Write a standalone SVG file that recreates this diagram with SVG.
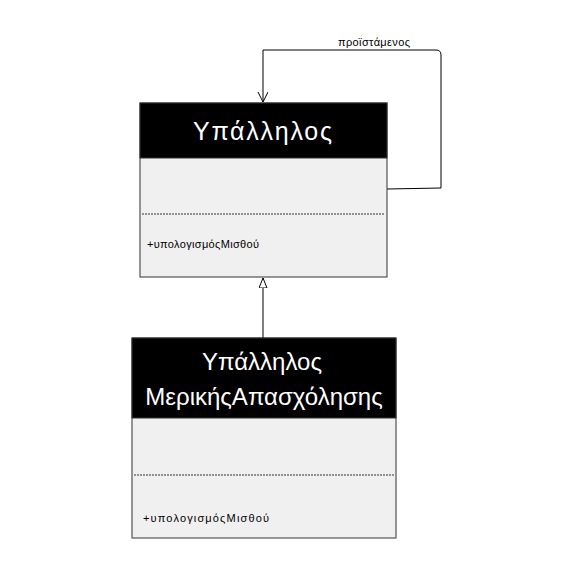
<svg xmlns="http://www.w3.org/2000/svg" width="573" height="573" viewBox="0 0 573 573">
<defs>
<style>
.body{fill:#f0f0f0;stroke:#333;stroke-width:1}
.head{fill:#000;stroke:#333;stroke-width:1}
.title{font-family:"Liberation Sans",Arial,sans-serif;fill:#fff;text-anchor:middle}
.sep{stroke:#333;stroke-width:1;stroke-dasharray:2,1}
.op{font-family:"Liberation Sans",Arial,sans-serif;font-size:11px;fill:#000}
.conn{fill:none;stroke:#000;stroke-width:1}
.lbl{font-family:"Liberation Sans",Arial,sans-serif;font-size:11px;fill:#000;text-anchor:middle}
</style>
<marker id="open" markerWidth="12" markerHeight="12" refX="10" refY="5" orient="auto" markerUnits="userSpaceOnUse">
<path d="M0,0 L10,5 L0,10" fill="none" stroke="#000" stroke-width="1"/>
</marker>
<marker id="tri" markerWidth="12" markerHeight="12" refX="10" refY="4" orient="auto" markerUnits="userSpaceOnUse">
<path d="M0,0 L10,4 L0,8 Z" fill="#fff" stroke="#000" stroke-width="1"/>
</marker>
</defs>
<rect width="573" height="573" fill="#fff"/>
<g id="connectors">
<path class="conn" d="M387,189 L441,188 L441,55 Q441,50 436,50 L263,50 L263,102" marker-end="url(#open)"/>
<text class="lbl" x="374" y="46" textLength="72" lengthAdjust="spacing">προϊστάμενος</text>
<path class="conn" d="M263,338 L263,278" marker-end="url(#tri)"/>
</g>
<g id="ypallilos">
<rect class="body" x="140" y="103" width="247" height="174"/>
<rect class="head" x="140" y="103" width="247" height="55"/>
<text class="title" x="262.5" y="140" font-size="25" textLength="139" lengthAdjust="spacing">Υπάλληλος</text>
<line class="sep" x1="142" y1="214" x2="385" y2="214"/>
<text class="op" x="147" y="248" textLength="112" lengthAdjust="spacing">+υπολογισμόςΜισθού</text>
</g>
<g id="ypallilos-merikis">
<rect class="body" x="132" y="338" width="264" height="200"/>
<rect class="head" x="132" y="338" width="264" height="80"/>
<text class="title" x="262" y="370" font-size="24">Υπάλληλος</text>
<text class="title" x="264" y="405" font-size="24">ΜερικήςΑπασχόλησης</text>
<line class="sep" x1="134" y1="475" x2="394" y2="475"/>
<text class="op" x="143" y="522" textLength="126" lengthAdjust="spacing">+υπολογισμόςΜισθού</text>
</g>
</svg>
